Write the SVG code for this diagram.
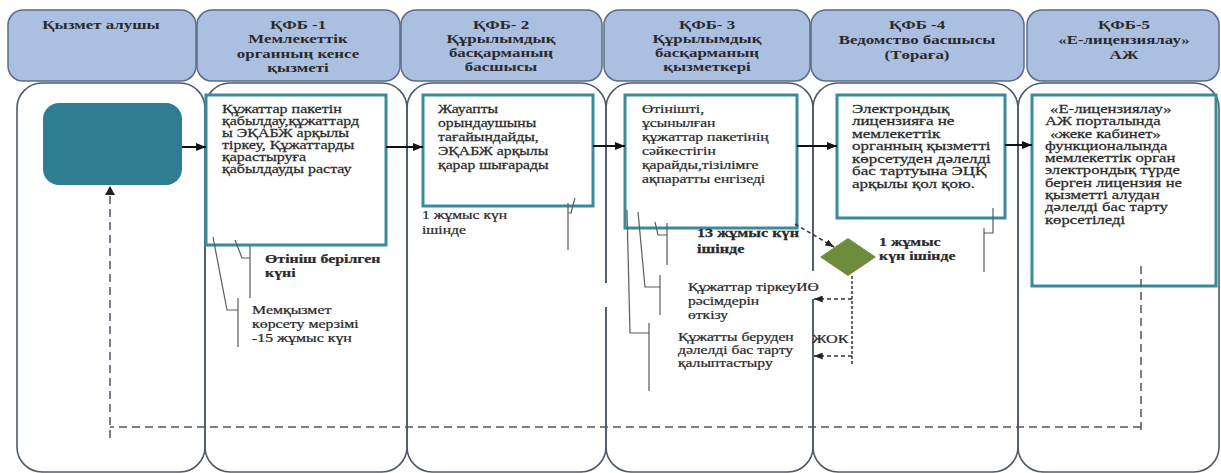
<svg xmlns="http://www.w3.org/2000/svg" width="1221" height="473" viewBox="0 0 1221 473">
<style>
.hdr{fill:#abc0e1;stroke:#5a6b85;stroke-width:1.5}
.lane{fill:none;stroke:#4d596b;stroke-width:1.6}
.box{fill:#fff;stroke:#3b8a9a;stroke-width:3}
.t{font-family:"Liberation Serif","Times New Roman",serif;font-size:13px;fill:#2a2a2a;stroke:#2a2a2a;stroke-width:0.25}
.th{font-family:"Liberation Serif","Times New Roman",serif;font-size:13px;font-weight:bold;fill:#2a2a2a;text-anchor:middle}
.b{font-weight:bold}
.call{fill:none;stroke:#555c66;stroke-width:1.2}
.flow{stroke:#111;stroke-width:2;fill:none;marker-end:url(#ah)}
.dash{stroke:#4a5566;stroke-width:1.5;stroke-dasharray:8 5;fill:none}
.dsm{stroke:#333;stroke-width:1.5;stroke-dasharray:4 3;fill:none;marker-end:url(#ahd)}
.dot{stroke:#333;stroke-width:1.5;stroke-dasharray:3 2;fill:none}
</style>
<defs>
<marker id="ah" viewBox="0 0 10 8" refX="10" refY="4" markerWidth="10" markerHeight="8" markerUnits="userSpaceOnUse" orient="auto"><path d="M0,0 L10,4 L0,8 z" fill="#111"/></marker>
<marker id="ahd" viewBox="0 0 10 8" refX="10" refY="4" markerWidth="9" markerHeight="7" markerUnits="userSpaceOnUse" orient="auto"><path d="M0,0 L10,4 L0,8 z" fill="#222"/></marker>
</defs>
<rect x="0" y="0" width="1221" height="473" fill="#fff"/>

<g id="headers">
<g id="h1"><rect class="hdr" x="8" y="10" width="188" height="71" rx="15"/>
<g transform="translate(101,0) scale(1.3,1)"><text class="th"><tspan x="0" y="29">Қызмет алушы</tspan></text></g></g>
<g id="h2"><rect class="hdr" x="197" y="10" width="203" height="71" rx="15"/>
<g transform="translate(298,0) scale(1.3,1)"><text class="th"><tspan x="0" y="29">ҚФБ -1</tspan><tspan x="0" y="43.5">Мемлекеттік</tspan><tspan x="0" y="58">органның кенсе</tspan><tspan x="0" y="72">қызметі</tspan></text></g></g>
<g id="h3"><rect class="hdr" x="401" y="10" width="201" height="71" rx="15"/>
<g transform="translate(501,0) scale(1.3,1)"><text class="th"><tspan x="0" y="29">ҚФБ- 2</tspan><tspan x="0" y="43.5">Құрылымдық</tspan><tspan x="0" y="57.5">басқарманың</tspan><tspan x="0" y="71.5">басшысы</tspan></text></g></g>
<g id="h4"><rect class="hdr" x="604" y="10" width="206" height="71" rx="15"/>
<g transform="translate(707,0) scale(1.3,1)"><text class="th"><tspan x="0" y="29">ҚФБ- 3</tspan><tspan x="0" y="43.5">Құрылымдық</tspan><tspan x="0" y="57.5">басқарманың</tspan><tspan x="0" y="71.5">қызметкері</tspan></text></g></g>
<g id="h5"><rect class="hdr" x="811" y="10" width="213" height="71" rx="15"/>
<g transform="translate(917,0) scale(1.3,1)"><text class="th"><tspan x="0" y="29">ҚФБ -4</tspan><tspan x="0" y="44">Ведомство басшысы</tspan><tspan x="0" y="59">(Төраға)</tspan></text></g></g>
<g id="h6"><rect class="hdr" x="1027" y="10" width="192" height="71" rx="15"/>
<g transform="translate(1124,0) scale(1.3,1)"><text class="th"><tspan x="0" y="29">ҚФБ-5</tspan><tspan x="0" y="44">«Е-лицензиялау»</tspan><tspan x="0" y="59">АЖ</tspan></text></g></g>
</g>

<g id="lanes">
<rect class="lane" x="17" y="83" width="188" height="389" rx="25"/>
<rect class="lane" x="205" y="83" width="202" height="389" rx="25"/>
<rect class="lane" x="407" y="83" width="199" height="389" rx="25"/>
<rect class="lane" x="606" y="83" width="207" height="389" rx="25"/>
<rect class="lane" x="813" y="83" width="205" height="389" rx="25"/>
<rect class="lane" x="1018" y="83" width="201" height="389" rx="25"/>
<rect x="602" y="283" width="8" height="24" fill="#fff"/>
<rect x="809" y="271" width="8" height="28" fill="#fff"/>
</g>

<g id="start"><rect x="43" y="103" width="139" height="82" rx="16" fill="#2e7d92"/></g>

<g id="box1"><rect class="box" x="206" y="95" width="180" height="150"/>
<g transform="translate(222,0) scale(1.23,1)"><text class="t"><tspan x="0" y="113">Құжаттар пакетін</tspan><tspan x="0" y="125">қабылдау,құжаттард</tspan><tspan x="0" y="137">ы ЭҚАБЖ  арқылы</tspan><tspan x="0" y="149">тіркеу, Құжаттарды</tspan><tspan x="0" y="161">қарастыруға</tspan><tspan x="0" y="173">қабылдауды растау</tspan></text></g></g>

<g id="box2"><rect class="box" x="423" y="95" width="170" height="111"/>
<g transform="translate(438,0) scale(1.21,1)"><text class="t"><tspan x="0" y="113">Жауапты</tspan><tspan x="0" y="127">орындаушыны</tspan><tspan x="0" y="141">тағайындайды,</tspan><tspan x="0" y="155">ЭҚАБЖ арқылы</tspan><tspan x="0" y="169">қарар шығарады</tspan></text></g></g>

<g id="box3"><rect class="box" x="625" y="95" width="172" height="133"/>
<g transform="translate(642,0) scale(1.2,1)"><text class="t"><tspan x="0" y="113">Өтінішті,</tspan><tspan x="0" y="127">ұсынылған</tspan><tspan x="0" y="141">құжаттар пакетінің</tspan><tspan x="0" y="155">сәйкестігін</tspan><tspan x="0" y="169">қарайды,тізілімге</tspan><tspan x="0" y="183">ақпаратты енгізеді</tspan></text></g></g>

<g id="box4"><rect class="box" x="837" y="95" width="168" height="123"/>
<g transform="translate(852,0) scale(1.31,1)"><text class="t"><tspan x="0" y="113">Электрондық</tspan><tspan x="0" y="125.5">лицензияға не</tspan><tspan x="0" y="138">мемлекеттік</tspan><tspan x="0" y="150.5">органның қызметті</tspan><tspan x="0" y="163">көрсетуден дәлелді</tspan><tspan x="0" y="175.5">бас тартуына ЭЦҚ</tspan><tspan x="0" y="188">арқылы қол қою.</tspan></text></g></g>

<g id="box5"><rect class="box" x="1032" y="95" width="184" height="191"/>
<g transform="translate(1045,0) scale(1.28,1)"><text class="t"><tspan x="4" y="113">«Е-лицензиялау»</tspan><tspan x="0" y="125.3">АЖ порталында</tspan><tspan x="4" y="137.6">«жеке кабинет»</tspan><tspan x="0" y="150">функционалында</tspan><tspan x="0" y="162.2">мемлекеттік орган</tspan><tspan x="0" y="174.5">электрондық түрде</tspan><tspan x="0" y="186.8">берген лицензия не</tspan><tspan x="0" y="199">қызметті алудан</tspan><tspan x="0" y="211.4">дәлелді  бас тарту</tspan><tspan x="0" y="223.7">көрсетіледі</tspan></text></g></g>

<g id="decision"><polygon points="820,257 848,238 876,257 848,276" fill="#6e8c3c"/></g>

<g id="labels">
<g id="lbl-submit" transform="translate(265,0) scale(1.22,1)"><text class="t b"><tspan x="0" y="263">Өтініш берілген</tspan><tspan x="0" y="277">күні</tspan></text></g>
<g id="lbl-term" transform="translate(252,0) scale(1.22,1)"><text class="t"><tspan x="0" y="314">Мемқызмет</tspan><tspan x="0" y="328">көрсету мерзімі</tspan><tspan x="0" y="342">-15 жұмыс күн</tspan></text></g>
<g id="lbl-1day" transform="translate(422,0) scale(1.2,1)"><text class="t"><tspan x="0" y="219">1 жұмыс күн</tspan><tspan x="0" y="234">ішінде</tspan></text></g>
<g id="lbl-13day" transform="translate(697,0) scale(1.25,1)"><text class="t b"><tspan x="0" y="237">13 жұмыс күн</tspan><tspan x="0" y="253">ішінде</tspan></text></g>
<g id="lbl-1day-b" transform="translate(879,0) scale(1.22,1)"><text class="t b"><tspan x="0" y="246">1 жұмыс</tspan><tspan x="0" y="260">күн ішінде</tspan></text></g>
<g id="lbl-reg" transform="translate(688,0) scale(1.2,1)"><text class="t"><tspan x="0" y="291">Құжаттар тіркеуИӨ</tspan><tspan x="0" y="305">рәсімдерін</tspan><tspan x="0" y="319">өткізу</tspan></text></g>
<g id="lbl-refuse" transform="translate(678,0) scale(1.2,1)"><text class="t"><tspan x="0" y="341">Құжатты беруден</tspan><tspan x="0" y="354">дәлелді  бас тарту</tspan><tspan x="0" y="367">қалыптастыру</tspan></text></g>
<g id="lbl-no" transform="translate(812,0) scale(1.2,1)"><text class="t" style="font-size:13.5px"><tspan x="0" y="343">ЖОК</tspan></text></g>
</g>

<g id="callouts">
<polyline class="call" points="213,237 227,310 238,310"/><line class="call" x1="238" y1="298" x2="238" y2="347"/>
<polyline class="call" points="235,240 242,258 250,258"/><line class="call" x1="250" y1="245" x2="250" y2="298"/>
<polyline class="call" points="575,198 571,213 568,213"/><line class="call" x1="568" y1="203" x2="568" y2="250"/>
<polyline class="call" points="627,210 630,333 649,333"/><line class="call" x1="649" y1="323" x2="649" y2="391"/>
<polyline class="call" points="638,212 645,287 660,287"/><line class="call" x1="660" y1="275" x2="660" y2="315"/>
<polyline class="call" points="655,222 658,235 667,235"/><line class="call" x1="667" y1="223" x2="667" y2="265"/>
<polyline class="call" points="993,208 993,233 984,233"/><line class="call" x1="984" y1="228" x2="984" y2="272"/>
</g>

<g id="connectors">
<line class="flow" x1="182" y1="147" x2="206" y2="147"/>
<line class="flow" x1="386" y1="147" x2="423" y2="147"/>
<line class="flow" x1="593" y1="146" x2="625" y2="146"/>
<line class="flow" x1="797" y1="146" x2="837" y2="146"/>
<line class="flow" x1="1005" y1="145" x2="1032" y2="145"/>
<line class="dsm" x1="795" y1="224" x2="834" y2="247"/>
<line class="dot" x1="852" y1="276" x2="852" y2="364"/>
<line class="dsm" x1="852" y1="299" x2="814" y2="299"/>
<line class="dsm" x1="852" y1="356" x2="814" y2="356"/>
<line class="dash" x1="1141" y1="266" x2="1141" y2="430"/>
<line class="dash" x1="1141" y1="427" x2="110" y2="427"/>
<line class="dash" x1="110" y1="438" x2="110" y2="194"/>
<path d="M105,195 L110,186 L115,195 z" fill="#222"/>
</g>
</svg>
